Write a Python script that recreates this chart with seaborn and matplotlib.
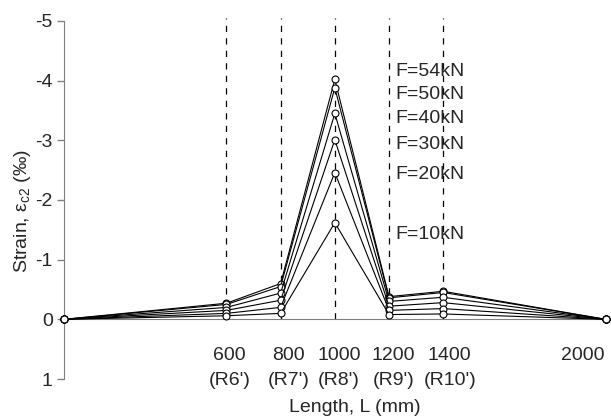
import pandas as pd
import matplotlib
matplotlib.use('Agg')
import matplotlib.pyplot as plt
import seaborn as sns

# strain readings along the beam (negative = compression), per load step
length_mm = [0, 600, 800, 1000, 1200, 1400, 2000]
loads = ['F=54kN', 'F=50kN', 'F=40kN', 'F=30kN', 'F=20kN', 'F=10kN']
strain_54 = [0, -0.27, -0.60, -4.02, -0.38, -0.47, 0]
strain_50 = [0, -0.25, -0.55, -3.88, -0.36, -0.45, 0]
strain_40 = [0, -0.20, -0.44, -3.45, -0.30, -0.37, 0]
strain_30 = [0, -0.15, -0.32, -3.01, -0.22, -0.28, 0]
strain_20 = [0, -0.10, -0.20, -2.46, -0.15, -0.18, 0]
strain_10 = [0, -0.06, -0.10, -1.62, -0.08, -0.09, 0]

gauge_x = [600, 800, 1000, 1200, 1400]
tick_values = ['600', '800', '1000', '1200', '1400', '2000']
tick_gauges = ["(R6')", "(R7')", "(R8')", "(R9')", "(R10')", '']

# where the labels sit (they are not exactly on the gauges in the original)
tick_label_x = [611, 828, 1015, 1217, 1424, 1914]
load_label_y = [-4.15, -3.76, -3.36, -2.93, -2.43, -1.43]

FS = 14

sns.set_style('white')
plt.rcParams['font.family'] = ['Liberation Sans', 'DejaVu Sans']
plt.rcParams['axes.unicode_minus'] = False
plt.rcParams['mathtext.fontset'] = 'custom'
plt.rcParams['mathtext.rm'] = 'Liberation Sans'
plt.rcParams['mathtext.it'] = 'Liberation Sans'

all_series = [strain_54, strain_50, strain_40, strain_30, strain_20, strain_10]
rows = []
for name, vals in zip(loads, all_series):
    for x, v in zip(length_mm, vals):
        rows.append({'length': x, 'strain': v, 'load': name})
df = pd.DataFrame(rows)

fig = plt.figure(figsize=(6.11, 4.18), dpi=100)
ax = fig.add_axes([0.1047, 0.0933, 0.8866, 0.8565])

# gauge positions
ax.vlines(gauge_x, 0, -5.05, colors='black', linewidth=0.9,
          linestyles=(0, (5, 5)), zorder=1, clip_on=False)

sns.lineplot(data=df, x='length', y='strain', hue='load', hue_order=loads,
             palette=['black'] * len(loads), marker='o', markersize=5,
             markerfacecolor='white', markeredgecolor='black',
             markeredgewidth=0.8, linewidth=0.8, legend=False,
             clip_on=False, zorder=3, ax=ax)

ax.set_xlim(0, 2000)
ax.set_ylim(1, -5)
ax.set_yticks([1, 0, -1, -2, -3, -4, -5])
ax.set_yticklabels(['1', '0', '-1', '-2', '-3', '-4', '-5'])
ax.set_xticks([])

for side in ['top', 'right']:
    ax.spines[side].set_visible(False)
ax.spines['bottom'].set_position(('data', 0))
ax.spines['left'].set_color('#808080')
ax.spines['bottom'].set_color('#808080')
ax.tick_params(axis='y', left=True, length=5, width=1, color='#808080',
               labelsize=FS, pad=3)

for name, y in zip(loads, load_label_y):
    ax.text(1222, y, name, fontsize=FS, ha='left', va='center')

for x, top, bottom in zip(tick_label_x, tick_values, tick_gauges):
    ax.text(x, 0.60, top, fontsize=FS, ha='center', va='center')
    ax.text(x, 1.02, bottom, fontsize=FS, ha='center', va='center')

ax.set_xlabel('')
ax.set_ylabel('')
ax.text(0.537, -0.08, 'Length, L (mm)', fontsize=FS, ha='center',
        va='center', transform=ax.transAxes)
ax.text(-0.076, 0.47, r'Strain, $\varepsilon_{c2}$ (‰)', fontsize=FS,
        ha='center', va='center', rotation=90, transform=ax.transAxes)

fig.savefig('out.png', dpi=100)
